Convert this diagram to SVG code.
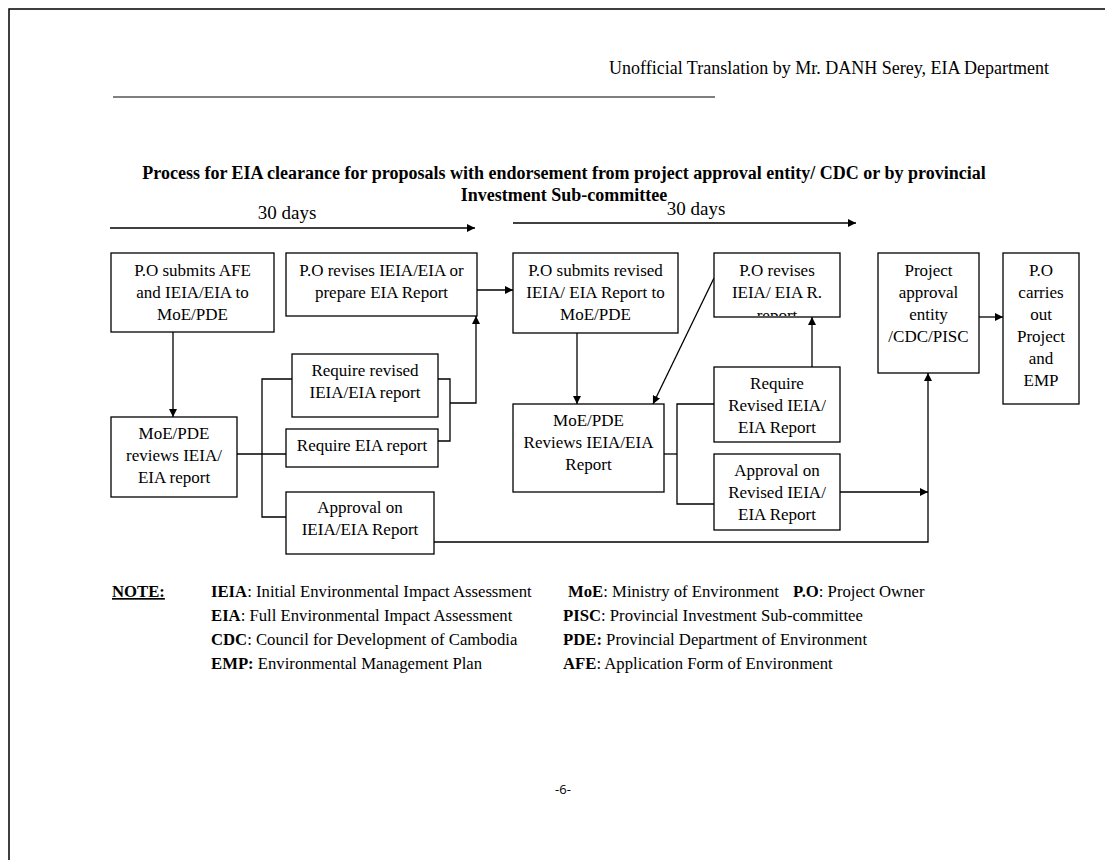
<svg xmlns="http://www.w3.org/2000/svg" width="1105" height="860" viewBox="0 0 1105 860">
<style>
.t{font-family:"Liberation Serif","Times New Roman",serif;font-size:17px;fill:#000}
.c{text-anchor:middle}
.b{font-weight:bold}
.n{font-size:16.7px}
.box{fill:#fff;stroke:#000;stroke-width:1.3}
.ln{fill:none;stroke:#000;stroke-width:1.3}
</style>
<defs>
<marker id="ah" viewBox="0 0 10 10" refX="10" refY="5" markerWidth="8" markerHeight="8" markerUnits="userSpaceOnUse" orient="auto">
<path d="M0,0 L10,5 L0,10 z" fill="#000"/>
</marker>
<clipPath id="clip4"><rect x="714" y="253" width="126" height="63"/></clipPath>
</defs>
<rect width="1105" height="860" fill="#fff"/>
<path d="M9,860 V9 H1105" fill="none" stroke="#000" stroke-width="1.5"/>
<text class="t" x="609" y="74" style="font-size:18px">Unofficial Translation by Mr. DANH Serey, EIA Department</text>
<line x1="113" y1="97" x2="715" y2="97" stroke="#000" stroke-width="1"/>
<text class="t c b" x="564" y="179" style="font-size:18px">Process for EIA clearance for proposals with endorsement from project approval entity/ CDC or by provincial</text>
<text class="t c b" x="564" y="201" style="font-size:18px">Investment Sub-committee</text>
<text class="t c" x="287" y="219" style="font-size:19px">30 days</text>
<text class="t c" x="696" y="215" style="font-size:19px">30 days</text>

<g id="connectors">
<line class="ln" x1="110" y1="228" x2="475" y2="228" marker-end="url(#ah)"/>
<line class="ln" x1="513" y1="223" x2="856" y2="223" marker-end="url(#ah)"/>
<line class="ln" x1="173" y1="332" x2="173" y2="417" marker-end="url(#ah)"/>
<line class="ln" x1="477" y1="290" x2="513" y2="290" marker-end="url(#ah)"/>
<path class="ln" d="M237,454 H286"/>
<path class="ln" d="M292,379 H262 V517 H286"/>
<path class="ln" d="M438,379 H450 V441 H438"/>
<path class="ln" d="M450,403 H476 V316" marker-end="url(#ah)"/>
<path class="ln" d="M434,542 H928 V373" marker-end="url(#ah)"/>
<line class="ln" x1="577" y1="333" x2="577" y2="404" marker-end="url(#ah)"/>
<line class="ln" x1="714" y1="278" x2="653" y2="404" marker-end="url(#ah)"/>
<path class="ln" d="M664,454 H677"/>
<path class="ln" d="M714,404 H677 V504 H714"/>
<line class="ln" x1="812" y1="367" x2="812" y2="317" marker-end="url(#ah)"/>
<line class="ln" x1="840" y1="492" x2="928" y2="492" marker-end="url(#ah)"/>
<line class="ln" x1="979" y1="317" x2="1003" y2="317" marker-end="url(#ah)"/>
</g>

<g id="n1"><rect class="box" x="111" y="253" width="163" height="79"/>
<text class="t c" x="192.5" y="276">P.O submits AFE</text>
<text class="t c" x="192.5" y="298">and IEIA/EIA to</text>
<text class="t c" x="192.5" y="320">MoE/PDE</text></g>

<g id="n2"><rect class="box" x="286" y="253" width="191" height="63"/>
<text class="t c" x="381.5" y="276">P.O revises IEIA/EIA or</text>
<text class="t c" x="381.5" y="298">prepare EIA Report</text></g>

<g id="n3"><rect class="box" x="513" y="253" width="165" height="80"/>
<text class="t c" x="595.5" y="276">P.O submits revised</text>
<text class="t c" x="595.5" y="298">IEIA/ EIA Report to</text>
<text class="t c" x="595.5" y="320">MoE/PDE</text></g>

<g id="n4"><rect class="box" x="714" y="253" width="126" height="64"/>
<text class="t c" x="777" y="276">P.O revises</text>
<text class="t c" x="777" y="298">IEIA/ EIA R.</text>
<text class="t c" x="777" y="321" clip-path="url(#clip4)">report</text></g>

<g id="n5"><rect class="box" x="878" y="253" width="101" height="120"/>
<text class="t c" x="928.5" y="276">Project</text>
<text class="t c" x="928.5" y="298">approval</text>
<text class="t c" x="928.5" y="320">entity</text>
<text class="t c" x="928.5" y="342">/CDC/PISC</text></g>

<g id="n6"><rect class="box" x="1003" y="253" width="76" height="151"/>
<text class="t c" x="1041" y="276">P.O</text>
<text class="t c" x="1041" y="298">carries</text>
<text class="t c" x="1041" y="320">out</text>
<text class="t c" x="1041" y="342">Project</text>
<text class="t c" x="1041" y="364">and</text>
<text class="t c" x="1041" y="386">EMP</text></g>

<g id="n7"><rect class="box" x="111" y="417" width="126" height="80"/>
<text class="t c" x="174" y="439">MoE/PDE</text>
<text class="t c" x="174" y="461">reviews IEIA/</text>
<text class="t c" x="174" y="483">EIA report</text></g>

<g id="n8"><rect class="box" x="292" y="354" width="146" height="63"/>
<text class="t c" x="365" y="376">Require revised</text>
<text class="t c" x="365" y="398">IEIA/EIA report</text></g>

<g id="n9"><rect class="box" x="286" y="429" width="152" height="38"/>
<text class="t c" x="362" y="451">Require EIA report</text></g>

<g id="n10"><rect class="box" x="286" y="492" width="148" height="62"/>
<text class="t c" x="360" y="513">Approval on</text>
<text class="t c" x="360" y="535">IEIA/EIA Report</text></g>

<g id="n11"><rect class="box" x="513" y="404" width="151" height="88"/>
<text class="t c" x="588.5" y="426">MoE/PDE</text>
<text class="t c" x="588.5" y="448">Reviews IEIA/EIA</text>
<text class="t c" x="588.5" y="470">Report</text></g>

<g id="n12"><rect class="box" x="714" y="367" width="126" height="75"/>
<text class="t c" x="777" y="389">Require</text>
<text class="t c" x="777" y="411">Revised IEIA/</text>
<text class="t c" x="777" y="433">EIA Report</text></g>

<g id="n13"><rect class="box" x="714" y="454" width="126" height="76"/>
<text class="t c" x="777" y="476">Approval on</text>
<text class="t c" x="777" y="498">Revised IEIA/</text>
<text class="t c" x="777" y="520">EIA Report</text></g>

<g id="notes">
<text x="112" y="597" class="t b n" style="text-decoration:underline">NOTE:</text>
<text x="211" y="597" class="t n"><tspan font-weight="bold">IEIA</tspan>: Initial Environmental Impact Assessment</text>
<text x="211" y="621" class="t n"><tspan font-weight="bold">EIA</tspan>: Full Environmental Impact Assessment</text>
<text x="211" y="645" class="t n"><tspan font-weight="bold">CDC</tspan>: Council for Development of Cambodia</text>
<text x="211" y="669" class="t n"><tspan font-weight="bold">EMP:</tspan> Environmental Management Plan</text>
<text x="568" y="597" class="t n"><tspan font-weight="bold">MoE</tspan>: Ministry of Environment</text>
<text x="793" y="597" class="t n"><tspan font-weight="bold">P.O</tspan>: Project Owner</text>
<text x="563" y="621" class="t n"><tspan font-weight="bold">PISC</tspan>: Provincial Investment Sub-committee</text>
<text x="563" y="645" class="t n"><tspan font-weight="bold">PDE:</tspan> Provincial Department of Environment</text>
<text x="563" y="669" class="t n"><tspan font-weight="bold">AFE</tspan>: Application Form of Environment</text>
</g>
<text x="563" y="794" style="font-family:'Open Sans','Liberation Sans',sans-serif;font-size:13px;text-anchor:middle">-6-</text>
</svg>
